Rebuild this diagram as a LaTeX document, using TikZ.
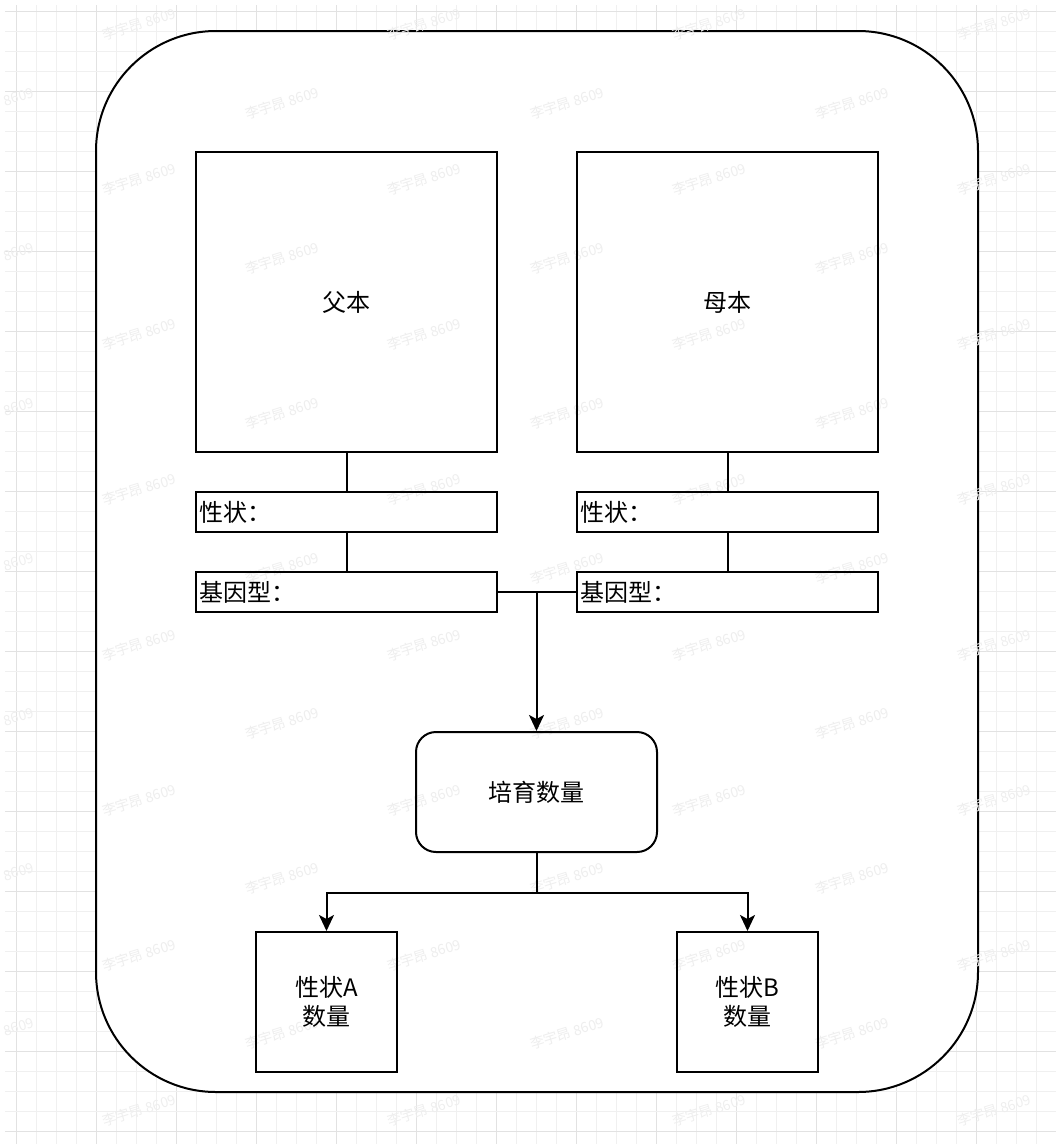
\documentclass[tikz,border=0pt]{standalone}
\usepackage{fontspec}
\newfontfamily\cjk{Noto Sans CJK SC}
\usetikzlibrary{arrows.meta,calc}
\begin{document}
\begin{tikzpicture}[x=1pt,y=-1pt,
  minorgrid/.style={draw={rgb,255:red,240;green,240;blue,240}, line width=1pt},
  majorgrid/.style={draw={rgb,255:red,226;green,226;blue,226}, line width=1pt},
  wmark/.style={text={rgb,255:red,238;green,238;blue,238}, font=\cjk\fontsize{14}{16}\selectfont, rotate=17, inner sep=0pt},
  box/.style={draw=black, line width=2pt, inner sep=0pt, font=\cjk\fontsize{24}{29}\selectfont, align=center},
  fieldbox/.style={draw=black, line width=2pt, inner xsep=3pt, inner ysep=0pt, font=\cjk\fontsize{24}{29}\selectfont, text width=295pt, align=left, minimum height=40pt},
  conn/.style={draw=black, line width=2pt},
  arr/.style={conn, -{Stealth[length=16pt,width=15pt,inset=4pt]}}
]
\useasboundingbox (0,0) rectangle (1056,1144);
% background grid
\foreach \i in {0,...,52}{
  \pgfmathtruncatemacro\m{mod(\i,4)}
  \ifnum\m=0 \draw[majorgrid] (16+20*\i,5) -- (16+20*\i,1144);
  \else \draw[minorgrid] (16+20*\i,5) -- (16+20*\i,1144); \fi
}
\foreach \i in {0,...,56}{
  \pgfmathtruncatemacro\m{mod(\i,4)}
  \ifnum\m=0 \draw[majorgrid] (5,11+20*\i) -- (1056,11+20*\i);
  \else \draw[minorgrid] (5,11+20*\i) -- (1056,11+20*\i); \fi
}
% outer frame
\node (frame) [draw=black, line width=2pt, fill=white, rounded corners=120pt,
  minimum width=882pt, minimum height=1061pt, inner sep=0pt] at (537,561.5) {};
% watermarks
\foreach \j in {0,...,7}{
  \foreach \k in {0,...,3}{
    \node (wmA-\j-\k) [wmark] at (139+285*\k, 24+155.2*\j) {李宇昂 8609};
  }
}
\foreach \j in {0,...,6}{
  \foreach \k in {0,...,3}{
    \node (wmB-\j-\k) [wmark] at (-3+285*\k, 103+155*\j) {李宇昂 8609};
  }
}
% parent boxes
\node (father) [box, minimum width=301pt, minimum height=300pt] at (346.5,302) {父本};
\node (mother) [box, minimum width=301pt, minimum height=300pt] at (727.5,302) {母本};
\node (fTrait) [fieldbox] at (346.5,512) {性状：};
\node (fGeno)  [fieldbox] at (346.5,592) {基因型：};
\node (mTrait) [fieldbox] at (727.5,512) {性状：};
\node (mGeno)  [fieldbox] at (727.5,592) {基因型：};
% breeding box
\node (breed) [box, rounded corners=20pt, minimum width=241pt, minimum height=120pt] at (536.5,792) {培育数量};
% result boxes
\node (traitA) [box, minimum width=141pt, minimum height=140pt] at (326.5,1002) {性状A\\数量};
\node (traitB) [box, minimum width=141pt, minimum height=140pt] at (747.5,1002) {性状B\\数量};
% connectors
\draw[conn] (father.south) -- (fTrait.north);
\draw[conn] (fTrait.south) -- (fGeno.north);
\draw[conn] (mother.south) -- (mTrait.north);
\draw[conn] (mTrait.south) -- (mGeno.north);
\draw[conn] (fGeno.east) -- (mGeno.west);
\coordinate (join) at (fGeno.east -| breed.north);
\draw[arr] (join) -- (breed.north);
\coordinate (split) at ($(breed.south)+(0,40)$);
\draw[conn] (breed.south) -- (split);
\draw[arr] (split) -| (traitA.north);
\draw[arr] (split) -| (traitB.north);
\end{tikzpicture}
\end{document}
